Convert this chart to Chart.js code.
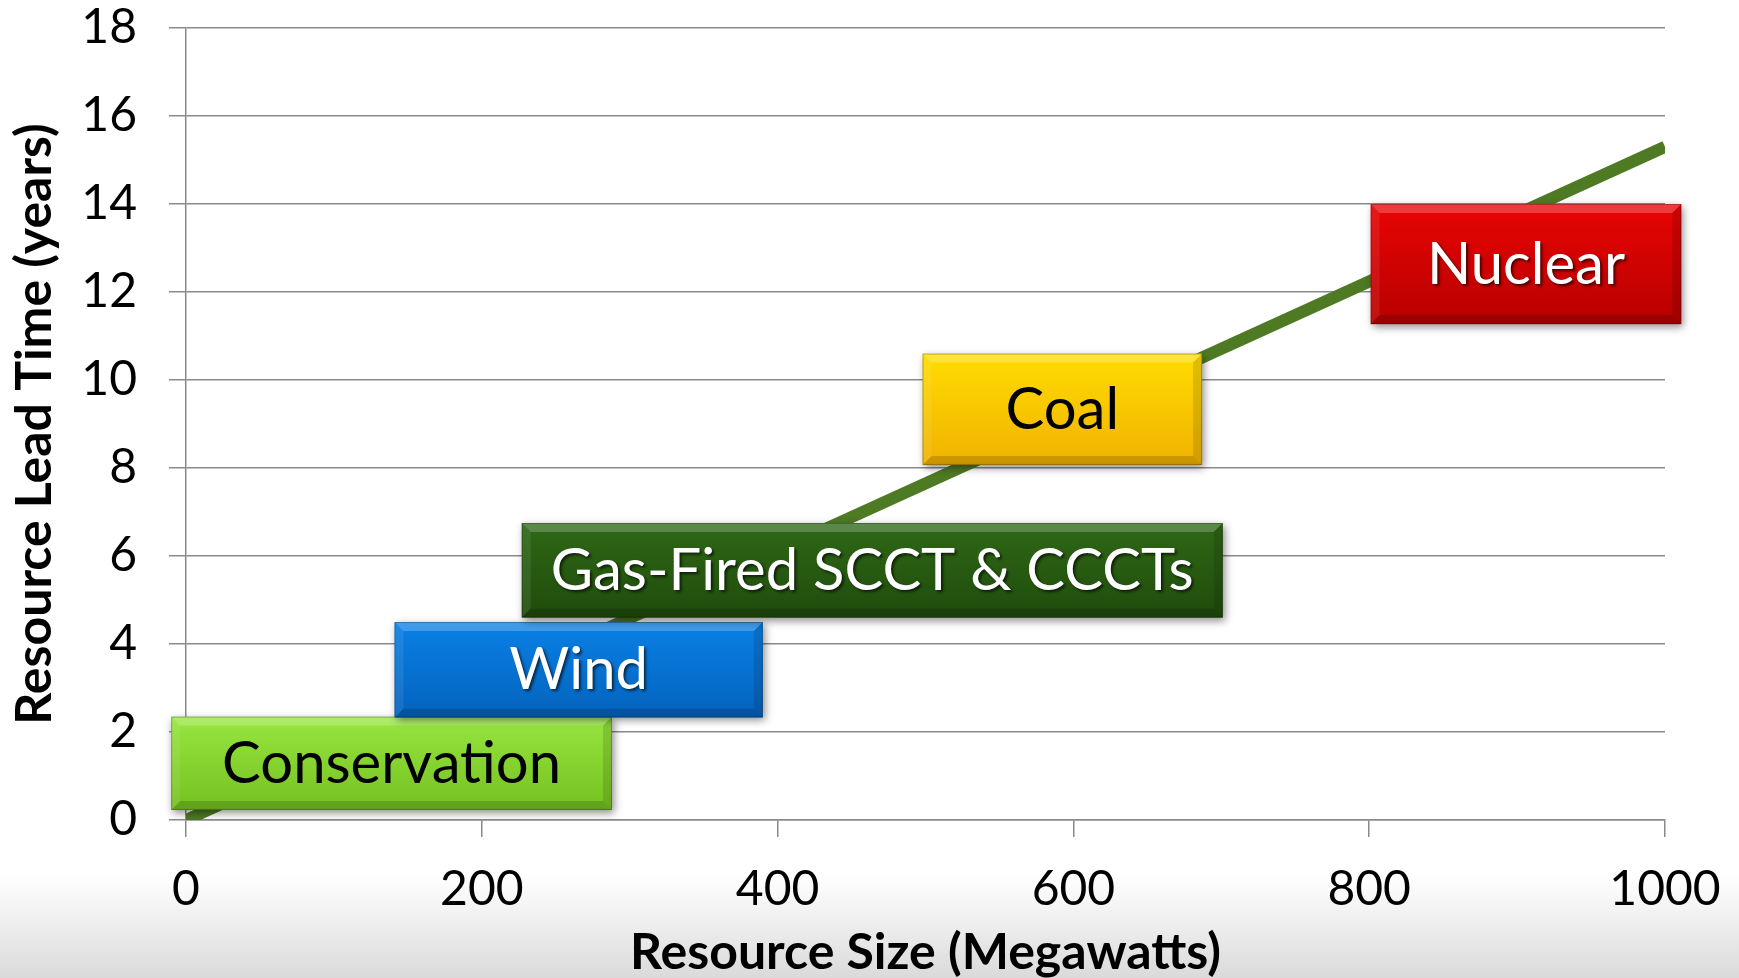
<!DOCTYPE html>
<html>
<head>
<meta charset="utf-8">
<script src="https://cdn.jsdelivr.net/npm/chart.js@4/dist/chart.umd.min.js"></script>
<style>
  html, body { margin: 0; padding: 0; background: #fff; }
  #wrap { width: 1739px; height: 978px; position: relative; }
</style>
</head>
<body>
<div id="wrap"><canvas id="c" width="1739" height="978"></canvas></div>
<script>
// ---- data ----
const categories = ['Conservation', 'Wind', 'Gas-Fired SCCT & CCCTs', 'Coal', 'Nuclear'];
const sizeMin = [-10, 141, 227, 498, 801];     // MW
const sizeMax = [288, 390, 701, 687, 1011];    // MW
const leadMin = [0.23, 2.33, 4.6, 8.07, 11.27]; // years
const leadMax = [2.35, 4.5, 6.75, 10.6, 14.0];  // years
const trendSize = [0, 1000];
const trendLead = [0, 15.3];
const xTickValues = [0, 200, 400, 600, 800, 1000];
const yTickValues = [0, 2, 4, 6, 8, 10, 12, 14, 16, 18];

// ---- styles ----
const boxTop = ['#98e640', '#0a80e6', '#2f6816', '#ffdc00', '#e80404'];
const boxBot = ['#74c020', '#0463bd', '#1f4c0c', '#f0b200', '#b80000'];
const textCol = ['#000', '#fff', '#fff', '#000', '#fff'];
const FONT = 'Lato, "Open Sans", "Noto Sans", sans-serif';

const bgPlugin = {
  id: 'bg',
  beforeDraw(chart) {
    const ctx = chart.ctx;
    ctx.save();
    ctx.fillStyle = '#ffffff';
    ctx.fillRect(0, 0, chart.width, chart.height);
    const g = ctx.createLinearGradient(0, 875, 0, chart.height);
    g.addColorStop(0, 'rgba(220,220,220,0)');
    g.addColorStop(1, 'rgba(218,218,218,1)');
    ctx.fillStyle = g;
    ctx.fillRect(0, 875, chart.width, chart.height - 875);
    ctx.restore();
  }
};

function shade(ctx, pts, fill) {
  ctx.beginPath();
  ctx.moveTo(pts[0][0], pts[0][1]);
  for (let i = 1; i < pts.length; i++) ctx.lineTo(pts[i][0], pts[i][1]);
  ctx.closePath();
  ctx.fillStyle = fill;
  ctx.fill();
}

const boxPlugin = {
  id: 'boxes',
  afterDatasetsDraw(chart) {
    const ctx = chart.ctx;
    const xs = chart.scales.x, ys = chart.scales.y;
    for (let i = 0; i < categories.length; i++) {
      const x0 = xs.getPixelForValue(sizeMin[i]);
      const x1 = xs.getPixelForValue(sizeMax[i]);
      const y0 = ys.getPixelForValue(leadMax[i]);
      const y1 = ys.getPixelForValue(leadMin[i]);
      const w = x1 - x0, h = y1 - y0;
      ctx.save();
      ctx.shadowColor = 'rgba(0,0,0,0.45)';
      ctx.shadowBlur = 8;
      ctx.shadowOffsetX = 2;
      ctx.shadowOffsetY = 3;
      const g = ctx.createLinearGradient(0, y0, 0, y1);
      g.addColorStop(0, boxTop[i]);
      g.addColorStop(1, boxBot[i]);
      ctx.fillStyle = g;
      ctx.fillRect(x0, y0, w, h);
      ctx.shadowColor = 'transparent';
      const b = 9;
      shade(ctx, [[x0, y0], [x1, y0], [x1 - b, y0 + b], [x0 + b, y0 + b]], 'rgba(255,255,255,0.22)');
      shade(ctx, [[x0, y1], [x1, y1], [x1 - b, y1 - b], [x0 + b, y1 - b]], 'rgba(0,0,0,0.16)');
      shade(ctx, [[x0, y0], [x0 + b, y0 + b], [x0 + b, y1 - b], [x0, y1]], 'rgba(255,255,255,0.08)');
      shade(ctx, [[x1, y0], [x1 - b, y0 + b], [x1 - b, y1 - b], [x1, y1]], 'rgba(0,0,0,0.12)');
      ctx.strokeStyle = 'rgba(0,0,0,0.25)';
      ctx.lineWidth = 1;
      ctx.strokeRect(x0 + 0.5, y0 + 0.5, w - 1, h - 1);
      ctx.font = '58px ' + FONT;
      ctx.textAlign = 'center';
      ctx.textBaseline = 'middle';
      if (textCol[i] === '#fff') {
        ctx.shadowColor = 'rgba(0,0,0,0.65)';
        ctx.shadowBlur = 3;
        ctx.shadowOffsetX = 2;
        ctx.shadowOffsetY = 2;
      }
      ctx.fillStyle = textCol[i];
      ctx.fillText(categories[i], (x0 + x1) / 2, (y0 + y1) / 2 + 1);
      ctx.restore();
    }
  }
};

const gridColor = '#8a8a8a';

new Chart(document.getElementById('c'), {
  type: 'line',
  data: {
    datasets: [{
      label: 'Lead time trend',
      data: trendSize.map((s, i) => ({ x: s, y: trendLead[i] })),
      borderColor: '#4e7a23',
      borderWidth: 12,
      borderCapStyle: 'butt',
      pointRadius: 0,
      tension: 0
    }]
  },
  options: {
    responsive: false,
    animation: false,
    layout: { padding: { top: 28, right: 74, left: 0, bottom: 0 } },
    plugins: { legend: { display: false }, tooltip: { enabled: false } },
    scales: {
      x: {
        type: 'linear',
        min: 0, max: 1000,
        afterBuildTicks(s) { s.ticks = xTickValues.map(v => ({ value: v })); },
        afterFit(s) { s.height = 158; s.paddingLeft = 0; s.paddingRight = 0; },
        grid: { drawOnChartArea: false, drawTicks: true, tickLength: 17, color: gridColor, lineWidth: 1.5 },
        border: { display: true, color: gridColor, width: 1.5 },
        ticks: { color: '#000', font: { family: FONT, size: 48 }, padding: 24, maxRotation: 0, autoSkip: false,
                 callback: v => String(v) },
        title: {
          display: true, text: 'Resource Size (Megawatts)', color: '#000',
          font: { family: FONT, size: 50, weight: 'bold', lineHeight: 1 },
          padding: { top: 0, bottom: 0 }
        }
      },
      y: {
        type: 'linear',
        min: 0, max: 18,
        afterBuildTicks(s) { s.ticks = yTickValues.map(v => ({ value: v })); },
        afterFit(s) { s.width = 186; s.paddingTop = 0; s.paddingBottom = 0; },
        grid: { drawOnChartArea: true, drawTicks: true, tickLength: 17, color: gridColor, lineWidth: 1.5 },
        border: { display: true, color: gridColor, width: 1.5 },
        ticks: { color: '#000', font: { family: FONT, size: 48 }, padding: 32, autoSkip: false,
                 callback: v => String(v) },
        title: {
          display: true, text: 'Resource Lead Time (years)', color: '#000',
          font: { family: FONT, size: 50, weight: 'bold', lineHeight: 1 },
          padding: { top: 10, bottom: 0 }
        }
      }
    }
  },
  plugins: [bgPlugin, boxPlugin]
});
</script>
</body>
</html>
